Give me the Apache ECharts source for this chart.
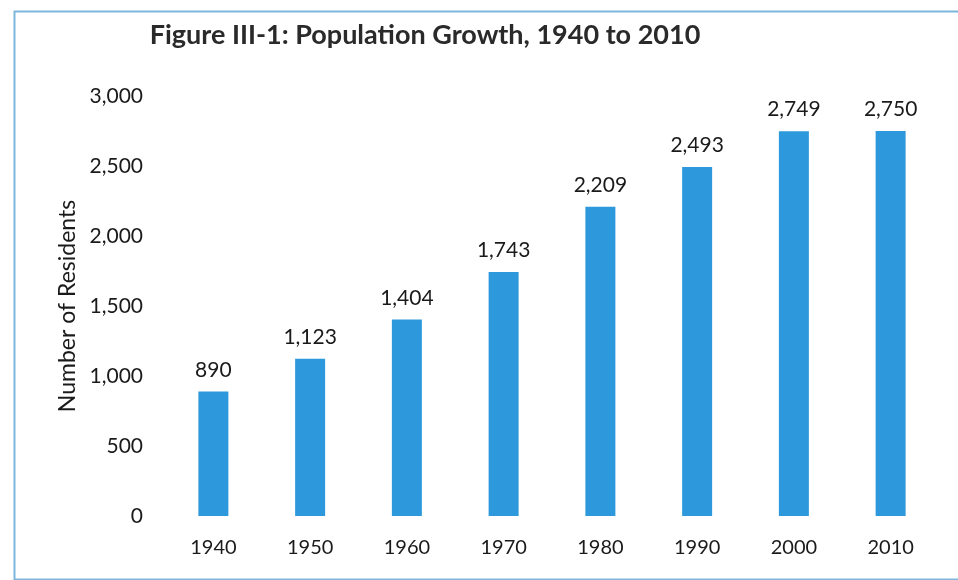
<!DOCTYPE html>
<html><head><meta charset="utf-8">
<script src="https://cdn.jsdelivr.net/npm/echarts@6/dist/echarts.min.js"></script>
<style>html,body{margin:0;padding:0;background:#fff}#c{width:958px;height:580px}</style>
</head><body><div id="c"></div>
<script>
const years = ['1940','1950','1960','1970','1980','1990','2000','2010'];
const residents = [890, 1123, 1404, 1743, 2209, 2493, 2749, 2750];
const yTicks = [0, 500, 1000, 1500, 2000, 2500, 3000];

const chart = echarts.init(document.getElementById('c'));
const font = 'Lato, "Open Sans", sans-serif';
chart.setOption({
  animation: false,
  graphic: [{
    type: 'rect', left: 12, top: 9, shape: {width: 960, height: 568},
    style: {fill: 'none', stroke: '#7fb6dd', lineWidth: 2}
  }],
  title: {
    text: 'Figure III-1: Population Growth, 1940 to 2010',
    left: 420, top: 17, textAlign: 'center',
    textStyle: {fontFamily: font, fontSize: 27, fontWeight: 'bold', color: '#2a2a2a'}
  },
  grid: {left: 165, right: 19, top: 96, bottom: 64},
  xAxis: {
    type: 'category', data: years,
    axisLine: {show: false}, axisTick: {show: false},
    axisLabel: {fontFamily: font, fontSize: 20, color: '#1a1a1a', margin: 22}
  },
  yAxis: {
    type: 'value', min: yTicks[0], max: yTicks[yTicks.length-1], interval: 500,
    name: 'Number of Residents', nameLocation: 'middle', nameGap: 86,
    nameTextStyle: {fontFamily: font, fontSize: 23, color: '#1a1a1a'},
    splitLine: {show: false}, axisLine: {show: false}, axisTick: {show: false},
    axisLabel: {fontFamily: font, fontSize: 21, color: '#1a1a1a', margin: 22,
      formatter: v => v.toLocaleString('en-US')}
  },
  series: [{
    type: 'bar', data: residents, barWidth: 30,
    itemStyle: {color: '#2e98dc'},
    label: {show: true, position: 'top', distance: 11, fontFamily: font, fontSize: 21, color: '#1a1a1a',
      formatter: p => p.value.toLocaleString('en-US')}
  }]
});
</script></body></html>
